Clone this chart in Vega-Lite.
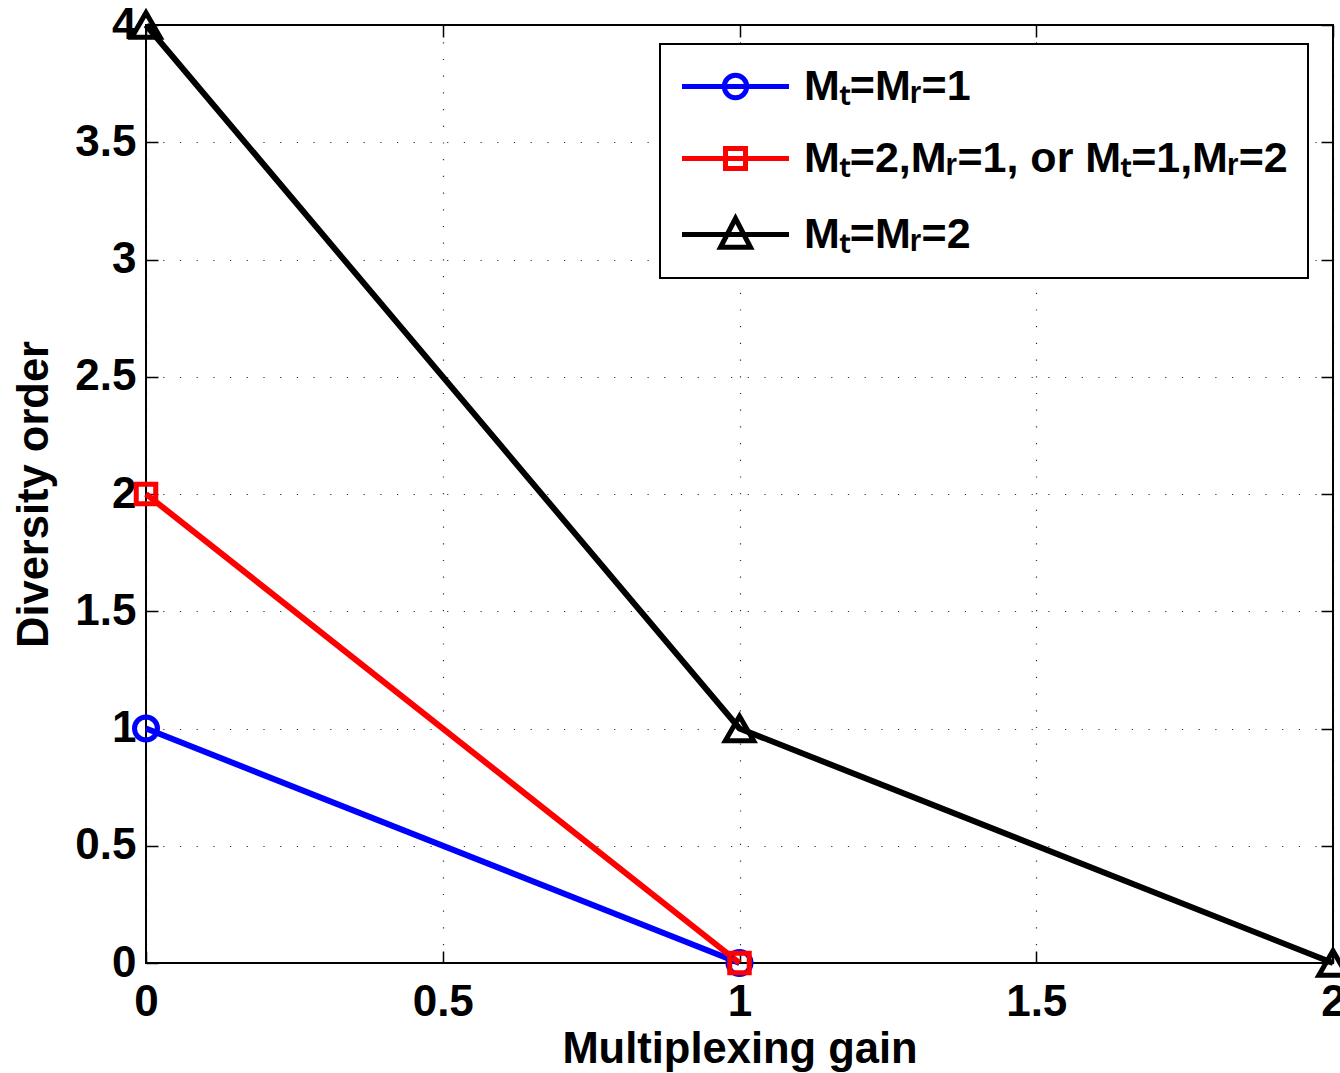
{
  "$schema": "https://vega.github.io/schema/vega-lite/v6.json",
  "width": 1187,
  "height": 938,
  "autosize": {"type": "none"},
  "padding": {"left": 146, "top": 25, "right": 7, "bottom": 110},
  "background": "white",
  "config": {
    "font": "Liberation Sans",
    "view": {"stroke": "#000", "strokeWidth": 2},
    "axis": {
      "labelFont": "Liberation Sans",
      "labelFontWeight": "bold",
      "labelFontSize": 44,
      "labelColor": "#000",
      "titleFont": "Liberation Sans",
      "titleFontWeight": "bold",
      "titleFontSize": 43.5,
      "titleColor": "#000",
      "domain": false,
      "tickColor": "#000",
      "tickWidth": 1.5,
      "tickSize": -12,
      "gridColor": "#000",
      "gridOpacity": 0.8,
      "gridWidth": 1.2,
      "gridDash": [1.2, 15.5],
      "labelOverlap": false,
      "labelFlush": false,
      "labelBound": false
    }
  },
  "data": {
    "values": [
      {"series": "Mₜ=Mᵣ=1", "gain": 0, "diversity": 1},
      {"series": "Mₜ=Mᵣ=1", "gain": 1, "diversity": 0},
      {"series": "Mₜ=2,Mᵣ=1, or Mₜ=1,Mᵣ=2", "gain": 0, "diversity": 2},
      {"series": "Mₜ=2,Mᵣ=1, or Mₜ=1,Mᵣ=2", "gain": 1, "diversity": 0},
      {"series": "Mₜ=Mᵣ=2", "gain": 0, "diversity": 4},
      {"series": "Mₜ=Mᵣ=2", "gain": 1, "diversity": 1},
      {"series": "Mₜ=Mᵣ=2", "gain": 2, "diversity": 0}
    ]
  },
  "resolve": {"axis": {"x": "independent", "y": "independent"}},
  "layer": [
    {
      "mark": {"type": "line", "strokeWidth": 6, "clip": false},
      "encoding": {
        "x": {
          "field": "gain", "type": "quantitative",
          "scale": {"domain": [0, 2], "nice": false, "zero": false},
          "axis": {"values": [0, 0.5, 1, 1.5, 2], "title": "Multiplexing gain", "labelPadding": 29, "titlePadding": 4, "grid": true, "format": "~g"}
        },
        "y": {
          "field": "diversity", "type": "quantitative",
          "scale": {"domain": [0, 4], "nice": false, "zero": false},
          "axis": {"values": [0, 0.5, 1, 1.5, 2, 2.5, 3, 3.5, 4], "title": "Diversity order", "labelPadding": 22, "titlePadding": 18, "grid": true, "format": "~g"}
        },
        "color": {
          "field": "series", "type": "nominal",
          "scale": {
            "domain": ["Mₜ=Mᵣ=1", "Mₜ=2,Mᵣ=1, or Mₜ=1,Mᵣ=2", "Mₜ=Mᵣ=2"],
            "range": ["#0000FF", "#FF0000", "#000000"]
          },
          "legend": {
            "orient": "none",
            "legendX": 514,
            "legendY": 19,
            "title": null,
            "direction": "vertical",
            "padding": 20,
            "strokeColor": "#000",
            "fillColor": "#fff",
            "labelFont": "Liberation Sans",
            "labelFontWeight": "bold",
            "labelFontSize": 43,
            "labelColor": "#000",
            "labelLimit": 2000,
            "labelOffset": 79,
            "rowPadding": 27,
            "symbolSize": 1600,
            "symbolStrokeWidth": 5,
            "symbolFillColor": "#fff",
            "encode": {
              "legend": {"update": {"strokeWidth": {"value": 2}}},
              "symbols": {
                "update": {
                  "shape": {"signal": "datum.value === 'Mₜ=Mᵣ=1' ? 'M-1.025,0L4.325,0M2.21,0A0.56,0.56 0 1,1 1.09,0A0.56,0.56 0 1,1 2.21,0Z' : (datum.value === 'Mₜ=Mᵣ=2' ? 'M-1.025,0L4.325,0M1.65,-0.8L2.4,0.64L0.9,0.64Z' : 'M-1.025,0L4.325,0M1.15,-0.5L2.15,-0.5L2.15,0.5L1.15,0.5Z')"},
                  "fill": {"value": "#fff"},
                  "fillOpacity": {"value": 1},
                  "opacity": {"value": 1},
                  "strokeWidth": {"value": 5},
                  "size": {"value": 1600}
                }
              }
            }
          }
        }
      }
    },
    {
      "transform": [{"filter": {"field": "series", "equal": "Mₜ=Mᵣ=1"}}],
      "mark": {"type": "point", "shape": "circle", "size": 529, "filled": false, "strokeWidth": 5, "opacity": 1, "clip": false},
      "encoding": {
        "x": {
          "field": "gain", "type": "quantitative",
          "axis": {"orient": "top", "values": [0, 0.5, 1, 1.5, 2], "labels": false, "title": null, "grid": false}
        },
        "y": {
          "field": "diversity", "type": "quantitative",
          "axis": {"orient": "right", "values": [0, 0.5, 1, 1.5, 2, 2.5, 3, 3.5, 4], "labels": false, "title": null, "grid": false}
        },
        "color": {"field": "series", "type": "nominal"}
      }
    },
    {
      "transform": [{"filter": {"field": "series", "equal": "Mₜ=2,Mᵣ=1, or Mₜ=1,Mᵣ=2"}}],
      "mark": {"type": "point", "shape": "square", "size": 380, "filled": false, "strokeWidth": 5, "opacity": 1, "clip": false},
      "encoding": {
        "x": {"field": "gain", "type": "quantitative", "axis": null},
        "y": {"field": "diversity", "type": "quantitative", "axis": null},
        "color": {"field": "series", "type": "nominal"}
      }
    },
    {
      "transform": [{"filter": {"field": "series", "equal": "Mₜ=Mᵣ=2"}}],
      "mark": {"type": "point", "shape": "triangle-up", "size": 800, "filled": false, "strokeWidth": 5, "opacity": 1, "clip": false},
      "encoding": {
        "x": {"field": "gain", "type": "quantitative", "axis": null},
        "y": {"field": "diversity", "type": "quantitative", "axis": null},
        "color": {"field": "series", "type": "nominal"}
      }
    }
  ]
}
